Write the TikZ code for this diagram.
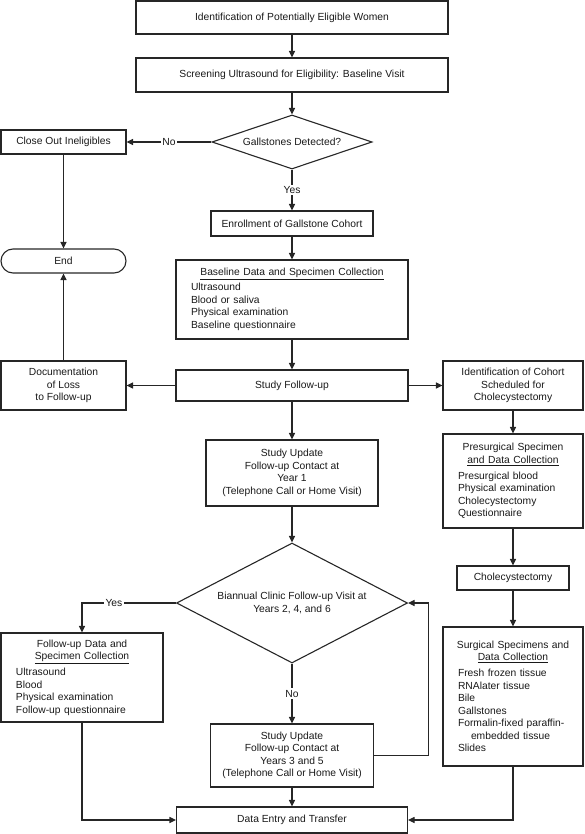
\documentclass[tikz,border=0pt]{standalone}
\usepackage{fontspec}
\setmainfont{Liberation Sans}
\usepackage{tikz}
\usetikzlibrary{arrows.meta, shapes.geometric}
\tikzset{>={Triangle[length=6.5pt, width=6pt]}}
\newcommand{\chartfont}{\fontsize{10.3pt}{12.5pt}\selectfont}
\newcommand{\boxhead}[1]{\makebox[\hsize][c]{#1}}
\tikzstyle{process} = [rectangle, text centered, align = center, inner sep = 2pt, draw = black!85, line width = 1.1pt, text = black!90, font = \chartfont]
\tikzstyle{record} = [rectangle, align = left, inner xsep = 15pt, inner ysep = 2pt, draw = black!85, line width = 1.1pt, text = black!90, font = \chartfont]
\tikzstyle{decision} = [diamond, text centered, align = center, inner sep = 0pt, draw = black!85, line width = 1.1pt, text = black!90, font = \chartfont]
\tikzstyle{terminal} = [rectangle, rounded corners = 12pt, text centered, inner sep = 2pt, draw = black!85, line width = 1.1pt, text = black!90, font = \chartfont]
\tikzstyle{answer} = [fill = white, inner sep = 1.5pt, text = black!90, font = \chartfont]

\begin{document}
\begin{tikzpicture}[x = 1pt, y = 1pt, node distance = 60pt]
    \useasboundingbox (0,0) rectangle (584,-834);

    % main column
    \node (identWomen) [process, minimum width = 312pt, minimum height = 33pt] at (292,-17.5) {Identification of Potentially Eligible Women};
    \node (screenVisit) [process, below of = identWomen, node distance = 57.5pt, minimum width = 312pt, minimum height = 34pt] {Screening Ultrasound for Eligibility: Baseline Visit};
    \node (gallDetect) [decision, below of = screenVisit, node distance = 67pt, aspect = 2.96, minimum width = 160pt, minimum height = 54pt] {Gallstones Detected?};
    \node (enrollCohort) [process, below of = gallDetect, node distance = 81.5pt, minimum width = 162pt, minimum height = 25pt] {Enrollment of Gallstone Cohort};
    \node (baselineData) [record, below of = enrollCohort, node distance = 76pt, text width = 202pt, minimum height = 79pt] {\boxhead{\underline{Baseline Data and Specimen Collection}}\\[2.5pt]
        Ultrasound\\ Blood or saliva\\ Physical examination\\ Baseline questionnaire};
    \node (followUp) [process, below of = baselineData, node distance = 86pt, minimum width = 232pt, minimum height = 31pt] {Study Follow-up};
    \node (updateYearOne) [process, below of = followUp, node distance = 87.5pt, minimum width = 172pt, minimum height = 66pt] {Study Update\\ Follow-up Contact at\\ Year 1\\ (Telephone Call or Home Visit)};
    \node (biannualVisit) [decision, below of = updateYearOne, node distance = 130pt, aspect = 1.925, minimum width = 231pt, minimum height = 120pt] {Biannual Clinic Follow-up Visit at\\ Years 2, 4, and 6};
    \node (updateYearsTF) [process, below of = biannualVisit, node distance = 152.5pt, minimum width = 163pt, minimum height = 63pt] {Study Update\\ Follow-up Contact at\\ Years 3 and 5\\ (Telephone Call or Home Visit)};
    \node (dataEntry) [process, below of = updateYearsTF, node distance = 64.5pt, minimum width = 231pt, minimum height = 26pt] {Data Entry and Transfer};

    % left column
    \node (closeOut) [process, left of = gallDetect, node distance = 228.5pt, minimum width = 125pt, minimum height = 24pt] {Close Out Ineligibles};
    \node (endNode) [terminal, below of = closeOut, node distance = 119pt, minimum width = 125pt, minimum height = 24pt] {End};
    \node (docLoss) [process, left of = followUp, node distance = 228.5pt, minimum width = 125pt, minimum height = 49pt] {Documentation\\ of Loss\\ to Follow-up};
    \node (fuData) [record, text width = 132pt, minimum height = 89pt] at (82,-677.5) {\boxhead{Follow-up Data and}\\ \boxhead{\underline{Specimen Collection}}\\[3.5pt]
        Ultrasound\\ Blood\\ Physical examination\\ Follow-up questionnaire};

    % right column
    \node (cholSched) [process, right of = followUp, node distance = 221pt, minimum width = 140pt, minimum height = 49pt] {Identification of Cohort\\ Scheduled for\\ Cholecystectomy};
    \node (presurgData) [record, below of = cholSched, node distance = 95.5pt, text width = 110pt, minimum height = 94pt] {\boxhead{Presurgical Specimen}\\ \boxhead{\underline{and Data Collection}}\\[3.5pt]
        Presurgical blood\\ Physical examination\\ Cholecystectomy\\ Questionnaire};
    \node (cholOp) [process, below of = presurgData, node distance = 97pt, minimum width = 112pt, minimum height = 24pt] {Cholecystectomy};
    \node (surgData) [record, below of = cholOp, node distance = 118.5pt, text width = 110pt, minimum height = 139pt] {\boxhead{Surgical Specimens and}\\ \boxhead{\underline{Data Collection}}\\[3.5pt]
        Fresh frozen tissue\\ RNAlater tissue\\ Bile\\ Gallstones\\ Formalin-fixed paraffin-\\ \hspace*{13pt}embedded tissue\\ Slides};

    \coordinate (loopBack) at ([xshift = 20pt]biannualVisit.east);

    \draw [->, draw = black!85, line width = 1.1pt] (identWomen) -- (screenVisit);
    \draw [->, draw = black!85, line width = 1.1pt] (screenVisit) -- (gallDetect);
    \draw [->, draw = black!85, line width = 1.1pt] (gallDetect) -- node [answer] {No} (closeOut);
    \draw [->, draw = black!85, line width = 1.1pt] (gallDetect) -- node [answer] {Yes} (enrollCohort);
    \draw [->, draw = black!85, line width = 1.1pt] (closeOut) -- (endNode);
    \draw [->, draw = black!85, line width = 1.1pt] (enrollCohort) -- (baselineData);
    \draw [->, draw = black!85, line width = 1.1pt] (baselineData) -- (followUp);
    \draw [->, draw = black!85, line width = 1.1pt] (followUp) -- (docLoss);
    \draw [->, draw = black!85, line width = 1.1pt] (docLoss) -- (endNode);
    \draw [->, draw = black!85, line width = 1.1pt] (followUp) -- (cholSched);
    \draw [->, draw = black!85, line width = 1.1pt] (cholSched) -- (presurgData);
    \draw [->, draw = black!85, line width = 1.1pt] (presurgData) -- (cholOp);
    \draw [->, draw = black!85, line width = 1.1pt] (cholOp) -- (surgData);
    \draw [->, draw = black!85, line width = 1.1pt] (followUp) -- (updateYearOne);
    \draw [->, draw = black!85, line width = 1.1pt] (updateYearOne) -- (biannualVisit);
    \draw [->, draw = black!85, line width = 1.1pt] (biannualVisit.west) -| node [answer, pos = 0.33] {Yes} (fuData.north);
    \draw [->, draw = black!85, line width = 1.1pt] (biannualVisit) -- node [answer] {No} (updateYearsTF);
    \draw [->, draw = black!85, line width = 1.1pt] (updateYearsTF.east) -| (loopBack) -- (biannualVisit.east);
    \draw [->, draw = black!85, line width = 1.1pt] (updateYearsTF) -- (dataEntry);
    \draw [->, draw = black!85, line width = 1.1pt] (fuData.south) |- (dataEntry.west);
    \draw [->, draw = black!85, line width = 1.1pt] (surgData.south) |- (dataEntry.east);
\end{tikzpicture}
\end{document}
